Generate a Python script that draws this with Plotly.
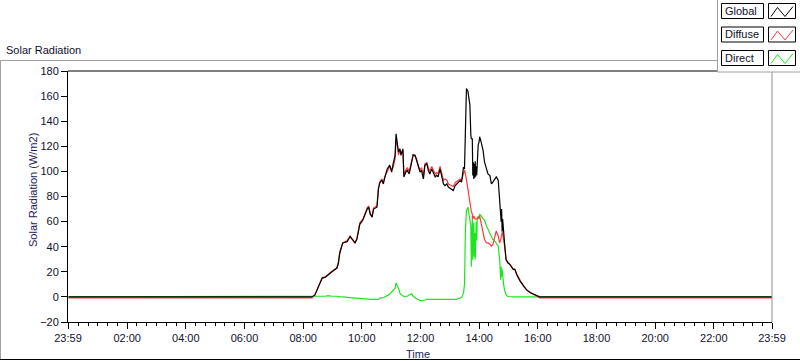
import plotly.graph_objects as go

# ---------------- data ----------------
times = ["00:00", "08:18", "08:24", "08:30", "08:34", "08:39", "08:45", "08:51", "08:59", "09:09",
         "09:12", "09:15", "09:21", "09:30", "09:36", "09:40", "09:46", "09:50", "09:56", "10:00",
         "10:03", "10:11", "10:14", "10:17", "10:21", "10:24", "10:31", "10:34", "10:37", "10:41",
         "10:44", "10:47", "10:52", "10:57", "11:01", "11:04", "11:08", "11:10", "11:13", "11:15",
         "11:18", "11:20", "11:24", "11:26", "11:30", "11:33", "11:37", "11:42", "11:45", "11:49",
         "11:52", "11:56", "11:59", "12:02", "12:06", "12:09", "12:13", "12:16", "12:19", "12:23",
         "12:26", "12:30", "12:33", "12:36", "12:40", "12:43", "12:47", "12:50", "12:54", "12:57",
         "13:04", "13:07", "13:11", "13:14", "13:17", "13:21", "13:24", "13:28", "13:30", "13:32",
         "13:34", "13:37", "13:41", "13:43", "13:44", "13:46", "13:47", "13:48", "13:49", "13:50",
         "13:51", "13:52", "13:53", "13:54", "13:55", "13:56", "13:58", "14:00", "14:01", "14:04",
         "14:08", "14:11", "14:15", "14:18", "14:22", "14:25", "14:28", "14:32", "14:35", "14:39",
         "14:42", "14:44", "14:45", "14:46", "14:47", "14:48", "14:49", "14:50", "14:52", "14:53",
         "14:55", "14:59", "15:03", "15:10", "15:13", "15:17", "15:24", "15:30", "15:37", "15:44",
         "15:51", "15:58", "16:04", "23:59"]

global_rad = [0, 0, 1.6, 7, 12, 15, 15.5, 17.7, 20, 23,
              27, 35, 43, 44, 48, 46, 43, 46, 58, 60,
              62, 70, 71.5, 66, 63.5, 70, 71.5, 86, 91, 93,
              90, 95, 102, 105, 99.5, 106, 112.8, 130, 122, 115.5,
              118, 112.8, 118, 95.6, 99.5, 100.8, 98, 107.5, 113.3, 112.8,
              108.8, 102, 99.5, 100.8, 94, 104.8, 106, 100.8, 98, 102,
              99.5, 95.6, 97, 95.6, 102, 95.6, 90, 88.7, 90, 87.5,
              86, 84.7, 88.7, 90, 91.5, 92.7, 91.5, 103.5, 102, 140,
              166, 164, 153, 129, 126, 126, 96.7, 107.5, 94, 106,
              95, 108, 96, 104, 97, 105, 121, 124, 127.6, 123.6,
              116.8, 107.5, 102, 98, 96.7, 90, 91.5, 94, 95.6, 93,
              78, 72.6, 60, 70, 52, 62, 56.5, 48, 40.4, 38,
              29.7, 27, 25.7, 21.7, 22, 17.7, 12.3, 8.8, 5.6, 3.5,
              2.4, 1, 0, 0]

diffuse_rad = [-0.8, -0.8, 1.6, 7, 12, 15.5, 16, 18, 20.5, 23,
               27, 36, 43, 45, 48.5, 46.5, 43, 47, 59, 61,
               62.5, 71, 72.5, 67, 64, 71, 72.5, 87, 92, 94,
               91, 96, 100, 104, 101, 103, 110, 125, 120, 113,
               117, 114, 117, 98, 101, 103, 100, 108, 113, 112,
               110, 104, 101, 103, 97, 106, 107, 103, 100, 104,
               101, 98, 99, 98, 104, 98, 93, 94, 93, 90,
               89, 88, 91, 92, 93, 94, 93, 100, 101, 98,
               94, 86, 75.5, 70, 68, 66, 62, 63, 64.5, 63,
               63, 62, 62, 62, 62.5, 62.5, 63, 63.5, 64.5, 59.5,
               52.5, 45.8, 43, 43, 42, 40.4, 41.7, 47.2, 52.5, 48.5,
               43, 45.8, 47, 49, 51.4, 51, 48, 43, 40.4, 38,
               29.7, 27.5, 26, 22, 22, 18, 12.5, 9, 5.6, 3.5,
               2, 0.5, -0.8, -0.8]

direct_rad = [0, 0, 0.5, 0.5, 0.5, 0.5, 0.5, 1, 0.5, 0.5,
              0, 0, 0, -0.5, -0.5, -1, -1, -1, -1.5, -1.5,
              -1.5, -1.5, -2, -2, -2, -2, -2, -2, -1, -1,
              -0.5, 0, 0.8, 2, 4, 5, 7, 11, 9, 7,
              3, 2, 1, 0.3, 0.5, 0.5, 1.5, 2.4, 0.5, -1,
              -1.5, -2, -3, -3, -3, -2.5, -2, -2, -2, -2,
              -2.5, -2.5, -2.5, -2.5, -2.5, -2.5, -2.5, -2.5, -2.5, -2.5,
              -2.5, -2.5, -2.5, -2, -1.5, -1, -0.5, 3, 10, 55,
              68.6, 71.5, 62, 56.5, 24, 64.5, 29.7, 50, 59.5, 32,
              51, 30, 55, 60, 45, 62, 64.5, 62, 66, 64.5,
              62, 61, 56.5, 54, 51, 48.5, 45.8, 44.5, 43, 40.4,
              29.7, 13.7, 24, 16, 22, 14, 18, 10, 5.4, 3,
              1.6, 0.3, 0, 0, 0, 0, 0, 0, 0, 0,
              0, 0, 0, 0]

tick_hours = [-1 / 60, 2, 4, 6, 8, 10, 12, 14, 16, 18, 20, 22, 24 - 1 / 60]
tick_labels = ["23:59", "02:00", "04:00", "06:00", "08:00", "10:00", "12:00",
               "14:00", "16:00", "18:00", "20:00", "22:00", "23:59"]

series_names = ["Global", "Diffuse", "Direct"]
series_colors = ["#000000", "#ff3a3a", "#1ee61e"]


def to_hours(s):
    h, m = s.split(":")
    return int(h) + int(m) / 60.0


x_hours = [to_hours(t) for t in times]

fig = go.Figure()
fig.add_trace(go.Scatter(x=x_hours, y=direct_rad, mode="lines", name="Direct",
                         line=dict(color=series_colors[2], width=1.2), showlegend=False))
fig.add_trace(go.Scatter(x=x_hours, y=diffuse_rad, mode="lines", name="Diffuse",
                         line=dict(color=series_colors[1], width=1.2), showlegend=False))
fig.add_trace(go.Scatter(x=x_hours, y=global_rad, mode="lines", name="Global",
                         line=dict(color=series_colors[0], width=1.2), showlegend=False))

# ---------------- layout geometry (pixels) ----------------
W, H = 800, 361
L, R, T, B = 68, 772, 71, 322


def px(xp):
    return (xp - L) / (R - L)


def py(yp):
    return (B - yp) / (B - T)


FONT = "Liberation Sans, Arial, sans-serif"
TXT = "#10102a"

shapes = []
annotations = []

# outer panel frame
shapes.append(dict(type="line", xref="paper", yref="paper", x0=px(0), x1=px(717), y0=py(60.5), y1=py(60.5),
                   line=dict(color="#a0a0a0", width=1)))
shapes.append(dict(type="line", xref="paper", yref="paper", x0=px(0.5), x1=px(0.5), y0=py(60.5), y1=py(359.5),
                   line=dict(color="#a0a0a0", width=1)))
shapes.append(dict(type="line", xref="paper", yref="paper", x0=px(0), x1=px(800), y0=py(359.5), y1=py(359.5),
                   line=dict(color="#000000", width=1)))
# plot frame top and right
shapes.append(dict(type="line", xref="paper", yref="paper", x0=0, x1=1, y0=1, y1=1,
                   line=dict(color="#000000", width=1)))
shapes.append(dict(type="line", xref="paper", yref="paper", x0=1, x1=1, y0=0, y1=1,
                   line=dict(color="#909090", width=1)))

# legend panel
shapes.append(dict(type="rect", xref="paper", yref="paper", x0=px(717), x1=px(801), y0=py(72), y1=py(-1),
                   fillcolor="white", line=dict(width=0), layer="above"))
shapes.append(dict(type="line", xref="paper", yref="paper", x0=px(717.5), x1=px(717.5), y0=py(72), y1=py(0),
                   line=dict(color="#a0a0a0", width=1), layer="above"))
shapes.append(dict(type="line", xref="paper", yref="paper", x0=px(717.5), x1=px(800), y0=py(72), y1=py(72),
                   line=dict(color="#a0a0a0", width=1), layer="above"))

for i, (name, col) in enumerate(zip(series_names, series_colors)):
    top = 3.5 + 23.5 * i
    bot = top + 15
    shapes.append(dict(type="rect", xref="paper", yref="paper", x0=px(721.5), x1=px(763.5), y0=py(bot), y1=py(top),
                       line=dict(color="#000000", width=1), fillcolor="white", layer="above"))
    shapes.append(dict(type="rect", xref="paper", yref="paper", x0=px(768.5), x1=px(795.5), y0=py(bot), y1=py(top),
                       line=dict(color="#000000", width=1), fillcolor="white", layer="above"))
    zig = [(771, bot - 2), (777.5, top + 4), (785, bot - 2), (793, top + 3)]
    path = "M " + " L ".join(f"{px(a):.5f},{py(b):.5f}" for a, b in zig)
    shapes.append(dict(type="path", xref="paper", yref="paper", path=path,
                       line=dict(color=col, width=1), layer="above"))
    annotations.append(dict(text=name, xref="paper", yref="paper", x=px(723), y=py((top + bot) / 2),
                            xanchor="left", yanchor="middle", showarrow=False,
                            font=dict(family=FONT, size=11, color=TXT)))

annotations.append(dict(text="Solar Radiation", xref="paper", yref="paper", x=px(4), y=py(50),
                        xanchor="left", yanchor="middle", showarrow=False,
                        font=dict(family=FONT, size=11, color=TXT)))
annotations.append(dict(text="Solar Radiation (W/m2)", xref="paper", yref="paper", x=px(33), y=py(190),
                        xanchor="center", yanchor="middle", textangle=-90, showarrow=False,
                        font=dict(family=FONT, size=11, color="#1c1c5a")))
annotations.append(dict(text="Time", xref="paper", yref="paper", x=px(418), y=py(354),
                        xanchor="center", yanchor="middle", showarrow=False,
                        font=dict(family=FONT, size=11, color="#1c1c5a")))

fig.update_layout(
    width=W, height=H,
    margin=dict(l=L, r=W - R, t=T, b=H - B, pad=0),
    paper_bgcolor="white", plot_bgcolor="white",
    font=dict(family=FONT, size=11, color=TXT),
    showlegend=False,
    shapes=shapes, annotations=annotations,
    xaxis=dict(range=[-1 / 60, 24 - 1 / 60], tickmode="array", tickvals=tick_hours, ticktext=tick_labels,
               showgrid=False, zeroline=False, showline=True, linecolor="black", linewidth=1,
               ticks="outside", ticklen=6, tickcolor="black", tickwidth=1,
               tickfont=dict(family=FONT, size=11, color=TXT),
               minor=dict(tickmode="linear", tick0=0, dtick=1 / 3, ticks="outside", ticklen=3,
                          tickcolor="black", tickwidth=1, showgrid=False)),
    yaxis=dict(range=[-20, 180], tickmode="linear", tick0=-20, dtick=20,
               showgrid=False, zeroline=False, showline=True, linecolor="black", linewidth=1,
               ticks="outside", ticklen=6, tickcolor="black", tickwidth=1,
               tickfont=dict(family=FONT, size=11, color=TXT)),
)

fig.write_html("out.html", config={"displayModeBar": False},
               post_script="document.body.style.margin='0';document.body.style.padding='0';"
                           "document.body.style.overflow='hidden';")
